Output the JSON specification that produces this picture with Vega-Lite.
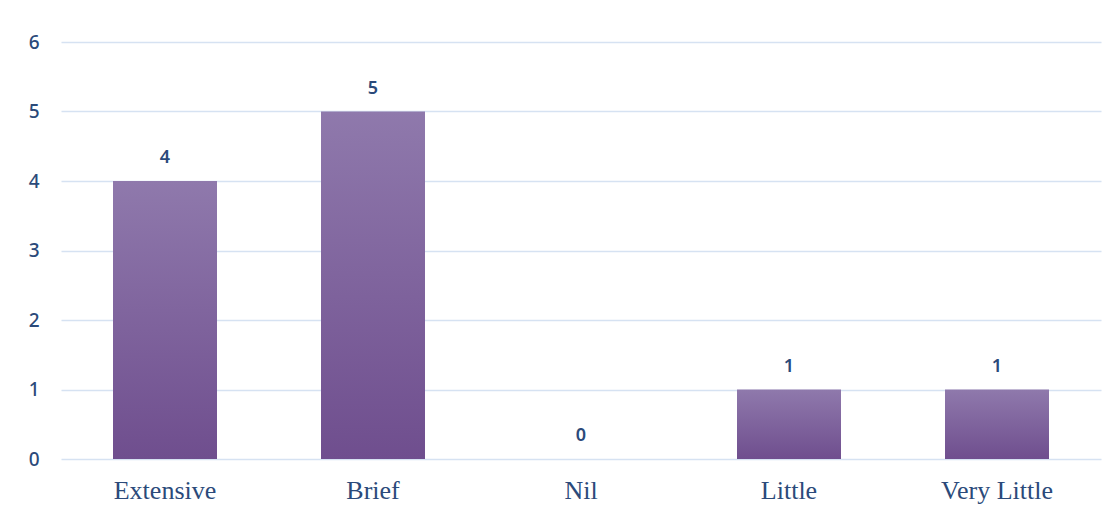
{
  "$schema": "https://vega.github.io/schema/vega-lite/v6.json",
  "autosize": {"type": "none"},
  "width": 1040,
  "height": 417,
  "padding": {"left": 61, "top": 42, "right": 17, "bottom": 54},
  "background": "white",
  "data": {"values": [
    {"category": "Extensive", "value": 4},
    {"category": "Brief", "value": 5},
    {"category": "Nil", "value": 0},
    {"category": "Little", "value": 1},
    {"category": "Very Little", "value": 1}
  ]},
  "encoding": {
    "x": {"field": "category", "type": "nominal", "sort": null,
      "scale": {"paddingInner": 0.5, "paddingOuter": 0.25},
      "axis": {"title": null, "labelAngle": 0, "domain": false, "ticks": false,
        "labelFont": "Liberation Serif", "labelFontSize": 26, "labelColor": "#2B4A7A", "labelPadding": 18}},
    "y": {"field": "value", "type": "quantitative",
      "scale": {"domain": [0, 6]},
      "axis": {"title": null, "tickCount": 6, "domain": false, "ticks": false,
        "gridColor": "#D6E2F2", "gridWidth": 1.5,
        "labelFont": "Noto Sans", "labelFontSize": 19, "labelFontWeight": 500, "labelColor": "#2B4A7A", "labelPadding": 22}}
  },
  "layer": [
    {"mark": {"type": "bar", "color": {"gradient": "linear", "x1": 0, "y1": 0, "x2": 0, "y2": 1,
      "stops": [{"offset": 0, "color": "#8F79AC"}, {"offset": 1, "color": "#6F4E8E"}]}}},
    {"mark": {"type": "text", "dy": -23, "font": "Noto Sans", "fontSize": 18, "fontWeight": 600, "color": "#2B4A7A"},
      "encoding": {"text": {"field": "value", "type": "quantitative"}}}
  ],
  "config": {"view": {"stroke": null}}
}
